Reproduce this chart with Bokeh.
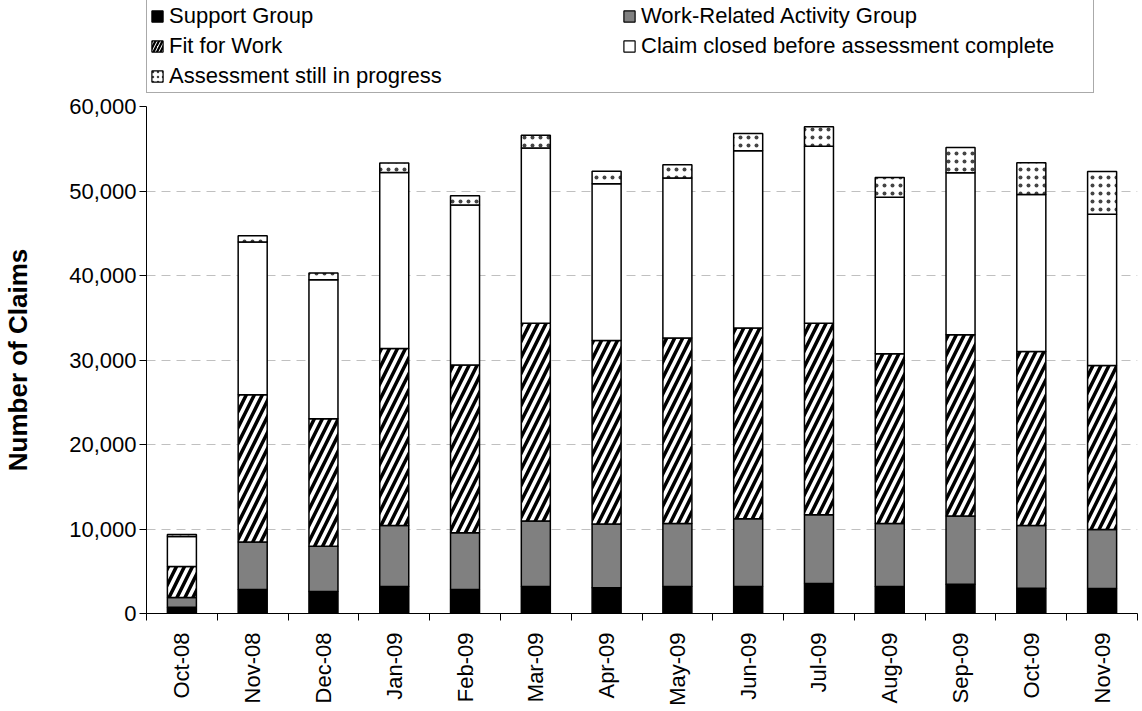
import numpy as np
from bokeh.plotting import figure
from bokeh.layouts import column
from bokeh.models import (ColumnDataSource, FixedTicker, NumeralTickFormatter,
                          Legend, LegendItem, Range1d)
from bokeh.embed import file_html
from bokeh.resources import INLINE

months = ["Oct-08", "Nov-08", "Dec-08", "Jan-09", "Feb-09", "Mar-09", "Apr-09",
          "May-09", "Jun-09", "Jul-09", "Aug-09", "Sep-09", "Oct-09", "Nov-09"]
support = [750, 2850, 2600, 3200, 2850, 3200, 3050, 3200, 3200, 3550, 3200, 3450, 3000, 2950]
wrag = [1150, 5600, 5350, 7200, 6700, 7750, 7550, 7450, 8000, 8150, 7450, 8100, 7400, 7000]
fit = [3650, 17450, 15100, 20950, 19850, 23400, 21700, 21950, 22600, 22650, 20100, 21450, 20600, 19400]
closed = [3550, 18050, 16450, 20850, 18950, 20750, 18550, 18950, 20950, 20950, 18500, 19150, 18600, 17900]
progress = [250, 750, 800, 1100, 1100, 1500, 1500, 1550, 2050, 2300, 2350, 3000, 3750, 5050]
series_names = ["Support Group", "Work-Related Activity Group", "Fit for Work",
                "Claim closed before assessment complete", "Assessment still in progress"]
y_ticks = [0, 10000, 20000, 30000, 40000, 50000, 60000]

x = list(range(len(months)))
src = ColumnDataSource(dict(x=x, support=support, wrag=wrag, fit=fit,
                            closed=closed, progress=progress))
stackers = ["support", "wrag", "fit", "closed", "progress"]

FONT = "Liberation Sans"
fills = ["black", "#808080", "white", "white", "white"]
hatches = ["blank", "blank", "right_diagonal_line", "blank", "dot"]
hcolors = ["black", "black", "black", "black", "#444444"]
hscales = [8, 8, 16, 8, 8]
hweights = [1, 1, 3.5, 1, 1.6]

W = 1138
LEG_H = 93

# ---- main chart ----
p = figure(width=W, height=615, output_backend="svg", toolbar_location=None,
           x_range=Range1d(-0.5, len(months) - 0.5), y_range=Range1d(0, 60000),
           min_border_left=140, min_border_right=1, min_border_top=13, min_border_bottom=92)

rs = p.vbar_stack(stackers, x="x", width=0.41, source=src,
                  fill_color=fills, line_color="black", line_width=1.5,
                  hatch_pattern=hatches, hatch_color=hcolors,
                  hatch_scale=hscales, hatch_weight=hweights)

p.outline_line_color = None
p.xgrid.visible = False
p.ygrid.grid_line_color = "#c0c0c0"
p.ygrid.grid_line_dash = "9 6"
p.ygrid.grid_line_width = 1

xa = p.xaxis[0]
xa.ticker = FixedTicker(ticks=x, minor_ticks=[i - 0.5 for i in range(len(months) + 1)])
xa.major_label_overrides = {i: m for i, m in zip(x, months)}
xa.major_tick_out = 0
xa.major_tick_in = 0
xa.minor_tick_out = 7
xa.minor_tick_in = 0
xa.minor_tick_line_color = "black"
xa.axis_line_color = "black"
xa.major_label_orientation = np.pi / 2
xa.major_label_standoff = 12
xa.major_label_text_font = FONT
xa.major_label_text_font_size = "22px"
xa.major_label_text_color = "black"

ya = p.yaxis[0]
ya.ticker = FixedTicker(ticks=y_ticks)
ya.formatter = NumeralTickFormatter(format="0,0")
ya.major_tick_out = 7
ya.major_tick_in = 0
ya.minor_tick_out = 0
ya.minor_tick_in = 0
ya.axis_line_color = "black"
ya.major_label_standoff = 3
ya.major_label_text_font = FONT
ya.major_label_text_font_size = "22px"
ya.major_label_text_color = "black"
ya.axis_label = "Number of Claims"
ya.axis_label_text_font = FONT
ya.axis_label_text_font_size = "26px"
ya.axis_label_text_font_style = "bold"
ya.axis_label_text_color = "black"
ya.axis_label_standoff = 33

# ---- legend strip: same series and styles, renderers hidden (legend only) ----
lg = figure(width=W, height=LEG_H, output_backend="svg", toolbar_location=None,
            x_range=Range1d(-0.5, len(months) - 0.5), y_range=Range1d(0, 60000),
            x_axis_location=None, y_axis_location=None,
            min_border_left=0, min_border_right=0, min_border_top=0, min_border_bottom=0)
lg.grid.visible = False
lg.outline_line_color = None
lrs = []
for i in range(5):
    r = lg.vbar(x="x", top=stackers[i], width=0.41, source=src,
                fill_color=fills[i], line_color="black", line_width=1.2,
                hatch_pattern=hatches[i], hatch_color=hcolors[i],
                hatch_scale=7 if i == 2 else 5, hatch_weight=2.2 if i == 2 else 1)
    r.visible = False
    lrs.append(r)

order = [0, 2, 4, 1, 3]
items = [LegendItem(label=series_names[i], renderers=[lrs[i]]) for i in order]
legend = Legend(items=items, location=(0, 0), ncols=2,
                label_text_font=FONT, label_text_font_size="22px",
                label_text_color="black",
                glyph_width=14, glyph_height=14, label_width=449, label_height=24,
                spacing=4, padding=3, margin=0, label_standoff=5,
                border_line_color="#555555", border_line_width=1,
                inactive_fill_alpha=0)
lg.add_layout(legend, "center")

open("out.html", "w").write(file_html(column(lg, p, spacing=0), INLINE))
